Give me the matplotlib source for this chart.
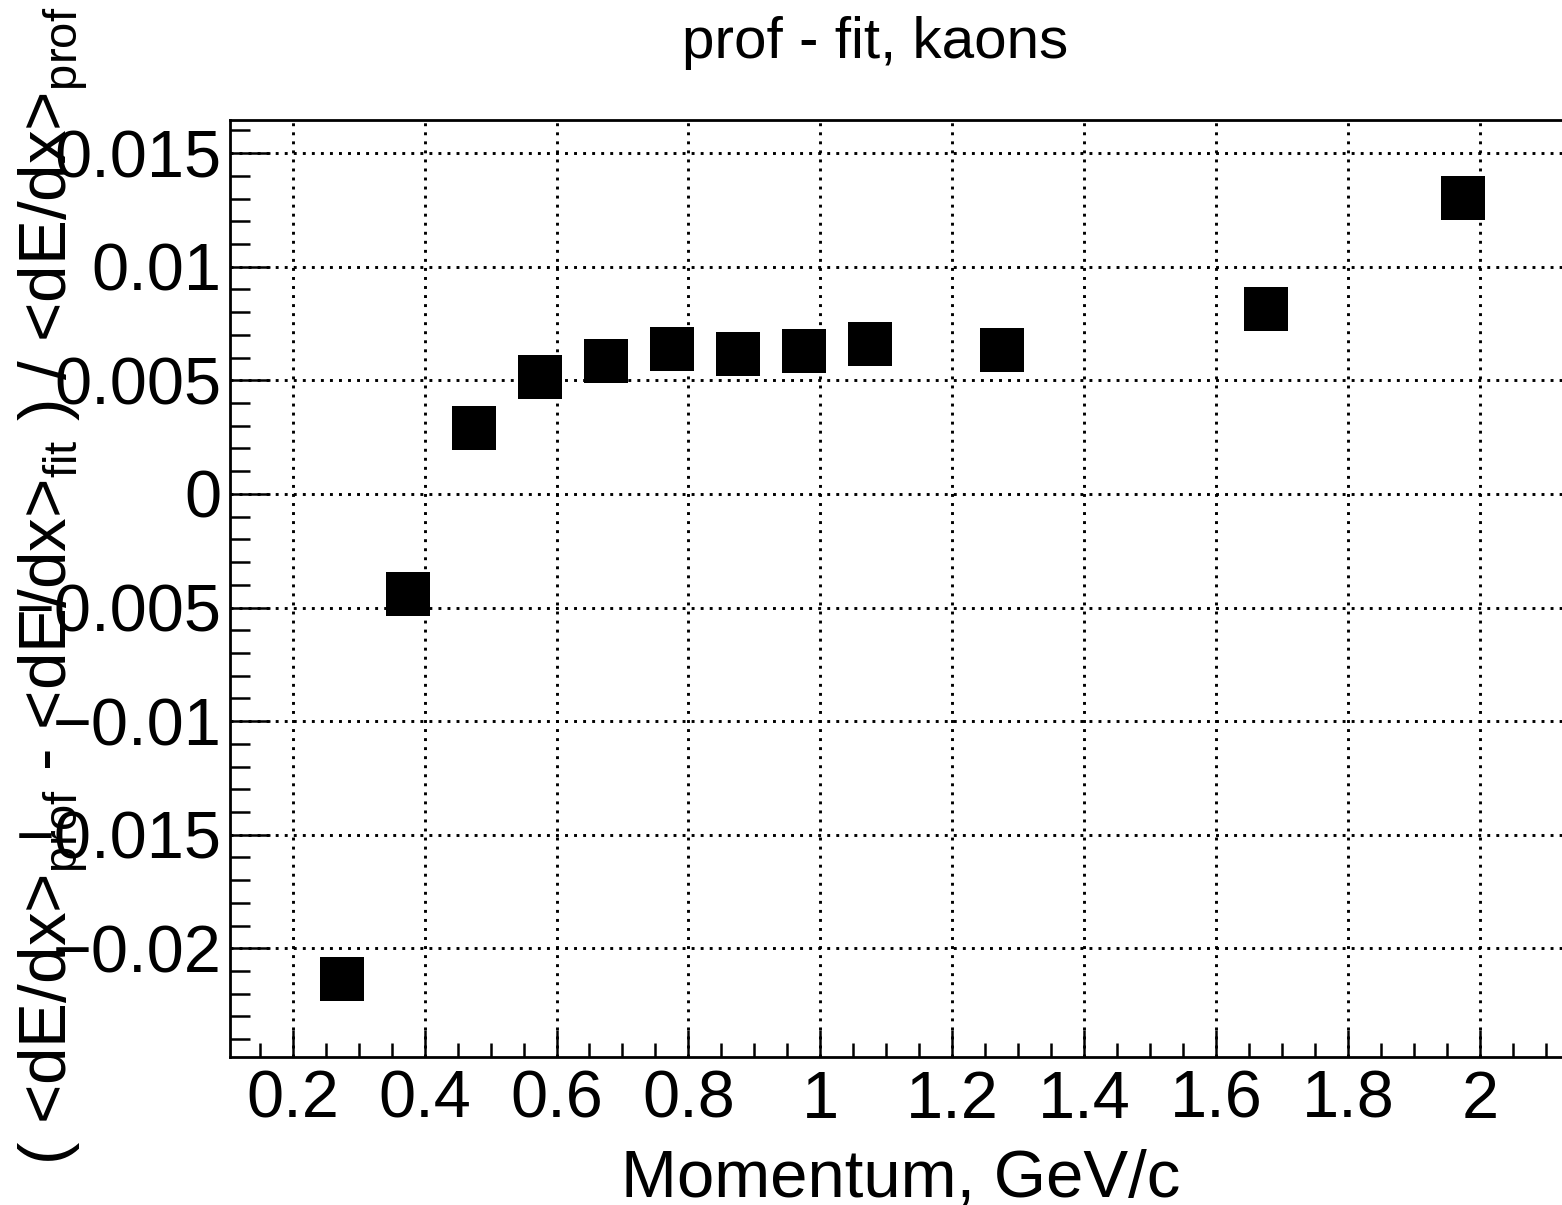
import matplotlib
matplotlib.use("Agg")
import matplotlib.pyplot as plt
from matplotlib.ticker import MultipleLocator, FuncFormatter

# ---- data ----
momentum = [0.275, 0.375, 0.475, 0.575, 0.675, 0.775, 0.875, 0.975, 1.075, 1.275, 1.675, 1.975]
rel_diff = [-0.02135, -0.00439, 0.00288, 0.00515, 0.00583, 0.00637, 0.00617, 0.00631,
            0.00661, 0.00632, 0.00813, 0.01304]
title = "prof - fit, kaons"
xlabel = "Momentum, GeV/c"
ylabel = (r"( <dE/dx>$_{\mathregular{prof}}$ - <dE/dx>$_{\mathregular{fit}}$ )"
          r" / <dE/dx>$_{\mathregular{prof}}$")

plt.rcParams['font.family'] = ['Liberation Sans', 'DejaVu Sans']
plt.rcParams['mathtext.fontset'] = 'custom'
plt.rcParams['mathtext.rm'] = 'Liberation Sans'
plt.rcParams['axes.unicode_minus'] = True

W, H = 1562, 1205
fig = plt.figure(figsize=(W / 100, H / 100), dpi=100)
ax = fig.add_axes([230 / W, 1 - 1057.3 / H, (1575.6 - 230) / W, (1057.3 - 120) / H])

ax.set_xlim(0.105, 2.145)
ax.set_ylim(-0.0248, 0.01646)

ax.plot(momentum, rel_diff, linestyle='none', marker='s', markersize=31.7,
        markeredgewidth=0, color='black', zorder=3, clip_on=False)

ax.xaxis.set_major_locator(MultipleLocator(0.2))
ax.xaxis.set_minor_locator(MultipleLocator(0.05))
ax.yaxis.set_major_locator(MultipleLocator(0.005))
ax.yaxis.set_minor_locator(MultipleLocator(0.001))

def fmt(v, pos):
    s = "%g" % round(v, 6)
    if s == "-0":
        s = "0"
    return s.replace("-", "\u2212")

ax.xaxis.set_major_formatter(FuncFormatter(fmt))
ax.yaxis.set_major_formatter(FuncFormatter(fmt))

ax.grid(True, which='major', color='black', linewidth=2.1,
        linestyle=(0, (1, 2.1)), zorder=1)
ax.set_axisbelow(True)

for s in ['left', 'bottom', 'top']:
    ax.spines[s].set_linewidth(2.0)
ax.spines['right'].set_visible(False)

ax.tick_params(axis='x', which='major', direction='in', length=19.4, width=1.8,
               labelsize=48, pad=9, top=False)
ax.tick_params(axis='x', which='minor', direction='in', length=10, width=1.8, top=False)
ax.tick_params(axis='y', which='major', direction='in', length=28.8, width=1.8,
               labelsize=48, pad=6, right=False)
ax.tick_params(axis='y', which='minor', direction='in', length=14.4, width=1.8, right=False)

# title, axis labels positioned in pixel space
fig.text(875 / W, 1 - 58 / H, title, ha='center', va='baseline', fontsize=42)
fig.text(901 / W, 1 - 1196.7 / H, xlabel, ha='center', va='baseline', fontsize=48.3)
fig.text(67 / W, 1 - 586 / H, ylabel, rotation=90, rotation_mode='anchor',
         ha='center', va='baseline', fontsize=48.5)

fig.savefig("out.png", dpi=100)
